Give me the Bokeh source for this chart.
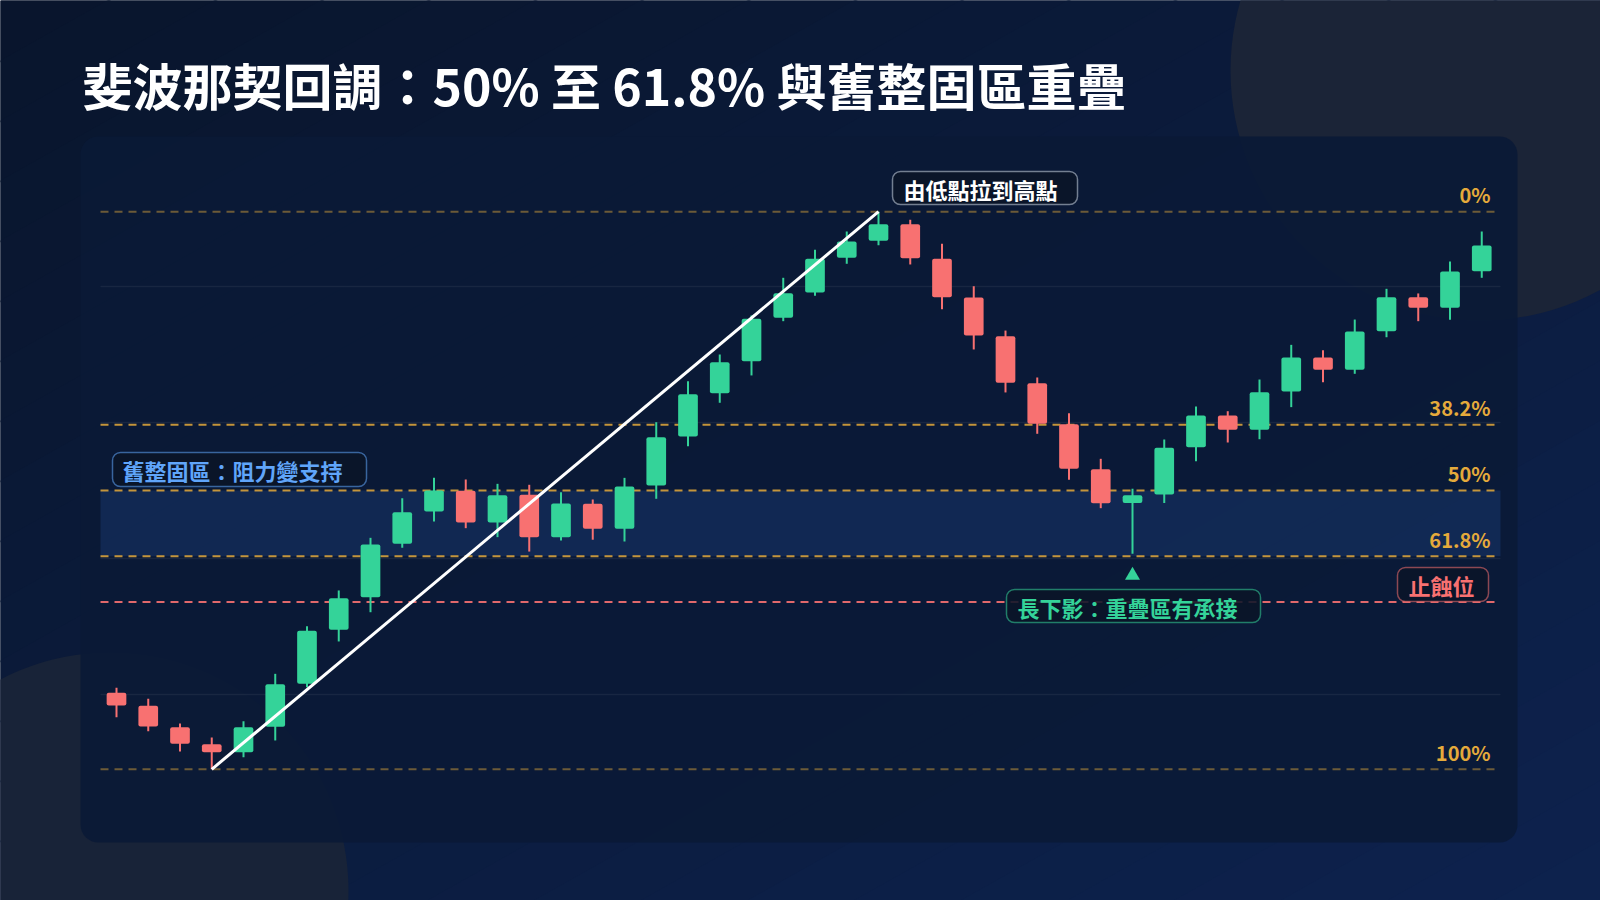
import numpy as np
from bokeh.plotting import figure
from bokeh.models import Range1d
from bokeh.core.properties import value
from bokeh.embed import file_html
from bokeh.resources import INLINE

# ---------------- data ----------------
TITLE = "斐波那契回調：50% 至 61.8% 與舊整固區重疊"

OPEN = [90.12, 89.17, 87.60, 86.35, 85.76, 87.62, 90.79, 94.76, 97.15, 101.08,
        103.46, 104.98, 102.65, 104.68, 101.57, 104.02, 102.18, 105.37, 108.97, 112.15,
        114.51, 117.70, 119.56, 122.11, 123.36, 124.58, 122.04, 119.19, 116.35, 112.89,
        109.87, 106.57, 104.08, 104.71, 108.18, 110.51, 109.46, 112.28, 114.78, 113.88,
        116.71, 119.21, 118.43, 121.13]
HIGH = [90.49, 89.68, 87.87, 86.84, 88.04, 91.52, 95.02, 97.65, 101.52, 104.43,
        105.93, 105.81, 105.49, 105.42, 104.88, 104.34, 105.93, 110.02, 113.04, 115.00,
        117.87, 120.64, 122.70, 124.04, 125.50, 124.90, 123.14, 120.02, 116.76, 113.31,
        110.68, 107.33, 105.13, 108.75, 111.18, 110.83, 113.16, 115.71, 115.32, 117.57,
        119.83, 119.49, 121.84, 124.04]
LOW = [88.33, 87.30, 85.81, 84.50, 85.39, 86.62, 90.54, 93.90, 96.05, 100.79,
       102.72, 102.23, 101.57, 100.51, 101.32, 101.38, 101.25, 104.39, 108.26, 111.45,
       113.46, 117.45, 119.32, 121.67, 123.04, 121.62, 118.33, 115.37, 112.21, 109.17,
       105.79, 103.70, 100.35, 104.08, 107.15, 108.53, 108.77, 111.13, 112.96, 113.58,
       116.27, 117.45, 117.55, 120.64]
CLOSE = [89.19, 87.65, 86.38, 85.76, 87.60, 90.76, 94.68, 97.08, 101.03, 103.40,
         105.00, 102.65, 104.65, 101.57, 104.04, 102.18, 105.29, 108.92, 112.08, 114.43,
         117.63, 119.51, 122.04, 123.31, 124.58, 122.08, 119.21, 116.40, 112.92, 109.90,
         106.60, 104.07, 104.65, 108.14, 110.51, 109.46, 112.23, 114.78, 113.88, 116.69,
         119.21, 118.43, 121.10, 123.01]

FIB_RATIOS = [0.0, 0.382, 0.5, 0.618, 1.0]
FIB_LABELS = ["0%", "38.2%", "50%", "61.8%", "100%"]
STOP_PRICE = 96.8
GRID_PRICES = [90, 100, 110, 120]

NOTE_SWING = "由低點拉到高點"
NOTE_ZONE = "舊整固區：阻力變支持"
NOTE_WICK = "長下影：重疊區有承接"
NOTE_STOP = "止蝕位"

# ---------------- layout / style ----------------
FONT = "Noto Sans CJK TC"
BG0, BG1 = (9, 21, 44), (13, 34, 78)
GREEN = "#34d399"
RED = "#f87171"
GOLD = "#e5aa3b"
BLUE = "#60a5fa"

W, H = 1600, 900
PLOT_L, PLOT_R = 100, 1500            # plot area in page px
CANDLE0_PX, CANDLE_STEP_PX = 116, 31.75
PRICE_REF, PRICE_REF_PX, PX_PER_UNIT = 80.0, 830, 13.6
LABEL_LIFT_PX = 17


def px_to_index(px):
    return (px - CANDLE0_PX) / CANDLE_STEP_PX


def px_to_price(py):
    return PRICE_REF + (PRICE_REF_PX - py) / PX_PER_UNIT


bg_hex = "#%02x%02x%02x" % BG0
p = figure(width=W, height=H,
           x_range=Range1d(0, W), y_range=Range1d(H, 0),
           output_backend="svg", toolbar_location=None, min_border=0,
           x_axis_location=None, y_axis_location=None,
           background_fill_color=bg_hex, border_fill_color=bg_hex, outline_line_color=None)
p.grid.visible = False
p.extra_x_ranges = {"ix": Range1d(px_to_index(0), px_to_index(W))}
p.extra_y_ranges = {"price": Range1d(px_to_price(H), px_to_price(0))}

# ---------------- background decoration ----------------
N_BANDS = 30
xs, ys, cols = [], [], []
for i in range(N_BANDS):
    s0, s1 = 2 * i / N_BANDS, 2 * (i + 1) / N_BANDS + 0.002
    xs.append([s0 * W + W, s1 * W + W, s1 * W - 2 * W, s0 * W - 2 * W])
    ys.append([-H, -H, 2 * H, 2 * H])
    t = (i + 0.5) / N_BANDS
    cols.append("#%02x%02x%02x" % tuple(int(round(a + (b - a) * t)) for a, b in zip(BG0, BG1)))
p.patches(xs=xs, ys=ys, fill_color=cols, line_color=None)

p.circle(x=[1480], y=[70], radius=250, fill_color="#1b2437", line_color=None)
p.circle(x=[110], y=[890], radius=238, fill_color="#182338", line_color=None)
p.quad(left=[80], right=[1517], top=[136], bottom=[842], fill_color="#0a1936",
       fill_alpha=0.9, line_color=None, border_radius=18)

# title
p.text(x=[82], y=[83], text=[TITLE], text_font=value(FONT), text_font_style="bold",
       text_font_size="50px", text_color="white", text_baseline="middle", text_align="left")

# ---------------- price structure ----------------
o = np.array(OPEN); h = np.array(HIGH); l = np.array(LOW); c = np.array(CLOSE)
idx = np.arange(len(o))
lo_i, hi_i = int(np.argmin(l)), int(np.argmax(h))
swing_low, swing_high = l[lo_i], h[hi_i]
levels = [swing_high - r * (swing_high - swing_low) for r in FIB_RATIOS]
lv = dict(zip(FIB_LABELS, levels))

# overlap zone (50% .. 61.8%)
p.quad(left=[PLOT_L], right=[PLOT_R], top=[lv["50%"]], bottom=[lv["61.8%"]],
       y_range_name="price", fill_color="#3b82f6", fill_alpha=0.15, line_color=None)

# faint grid
p.segment(x0=[PLOT_L] * len(GRID_PRICES), x1=[PLOT_R] * len(GRID_PRICES),
          y0=GRID_PRICES, y1=GRID_PRICES, y_range_name="price",
          line_color="#ffffff", line_alpha=0.06, line_width=1.5)

# fib lines
key = [0.382, 0.5, 0.618]
for r, lab, y in zip(FIB_RATIOS, FIB_LABELS, levels):
    p.line(x=[PLOT_L, PLOT_R], y=[y, y], y_range_name="price", line_color=GOLD,
           line_alpha=0.85 if r in key else 0.45, line_width=2, line_dash="8 6")
p.text(x=[1490] * len(levels), y=[y + LABEL_LIFT_PX / PX_PER_UNIT for y in levels],
       text=FIB_LABELS, y_range_name="price",
       text_font=value(FONT), text_font_style="bold", text_font_size="20px",
       text_color=GOLD, text_align="right", text_baseline="middle")

# stop line
p.line(x=[PLOT_L, PLOT_R], y=[STOP_PRICE, STOP_PRICE], y_range_name="price",
       line_color=RED, line_alpha=0.9, line_width=2, line_dash="8 6")

# ---------------- candles ----------------
up = c >= o
colors = [GREEN if u else RED for u in up]
p.segment(x0=idx, x1=idx, y0=l, y1=h, x_range_name="ix", y_range_name="price",
          line_color=colors, line_width=2)
p.vbar(x=idx, top=np.maximum(o, c), bottom=np.minimum(o, c), width=0.62,
       x_range_name="ix", y_range_name="price", fill_color=colors, line_color=None,
       border_radius=2)

# swing line low -> high
p.line(x=[lo_i, hi_i], y=[swing_low, swing_high], x_range_name="ix", y_range_name="price",
       line_color="white", line_width=3)

# hammer marker
shadow = np.minimum(o, c) - l
hm = int(np.argmax(shadow))
p.scatter(x=[hm], y=[l[hm] - 1.6], marker="triangle", size=15, x_range_name="ix",
          y_range_name="price", fill_color=GREEN, line_color=None)

# ---------------- note boxes ----------------
def note(left, right, top, bottom, text, tcolor, bcolor, tx):
    p.quad(left=[left], right=[right], top=[top], bottom=[bottom], fill_color="#0a1428",
           fill_alpha=0.88, line_color=bcolor, line_alpha=0.55, line_width=1.5,
           border_radius=8)
    p.text(x=[tx], y=[(top + bottom) / 2 + 0.5], text=[text], text_font=value(FONT),
           text_font_style="bold", text_font_size="22px", text_color=tcolor,
           text_align="left", text_baseline="middle")

note(892, 1077, 171, 204, NOTE_SWING, "white", "#cbd5e1", 903)
note(112, 366, 452, 486, NOTE_ZONE, BLUE, BLUE, 122)
note(1006, 1260, 589, 622, NOTE_WICK, GREEN, GREEN, 1017)
note(1397, 1488, 567, 601, NOTE_STOP, RED, RED, 1408)

open("out.html", "w").write(file_html(p, INLINE, title="Fibonacci retracement"))
